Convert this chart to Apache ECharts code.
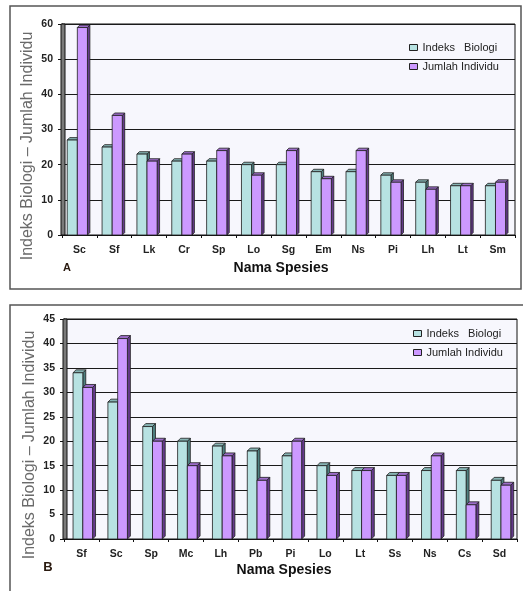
<!DOCTYPE html>
<html>
<head>
<meta charset="utf-8">
<script src="https://cdn.jsdelivr.net/npm/echarts@6/dist/echarts.min.js"></script>
<style>
  html, body { margin: 0; padding: 0; background: #ffffff; }
  #chart { width: 523px; height: 591px; }
</style>
</head>
<body>
<div id="chart"></div>
<script>
// Panel A
const speciesA = ['Sc', 'Sf', 'Lk', 'Cr', 'Sp', 'Lo', 'Sg', 'Em', 'Ns', 'Pi', 'Lh', 'Lt', 'Sm'];
const indeksA  = [27, 25, 23, 21, 21, 20, 20, 18, 18, 17, 15, 14, 14];
const jumlahA  = [59, 34, 21, 23, 24, 17, 24, 16, 24, 15, 13, 14, 15];
const ticksA   = [0, 10, 20, 30, 40, 50, 60];

// Panel B
const speciesB = ['Sf', 'Sc', 'Sp', 'Mc', 'Lh', 'Pb', 'Pi', 'Lo', 'Lt', 'Ss', 'Ns', 'Cs', 'Sd'];
const indeksB  = [34, 28, 23, 20, 19, 18, 17, 15, 14, 13, 14, 14, 12];
const jumlahB  = [31, 41, 20, 15, 17, 12, 20, 13, 14, 13, 17, 7, 11];
const ticksB   = [0, 5, 10, 15, 20, 25, 30, 35, 40, 45];

const nameIndeks = 'Indeks   Biologi';
const nameJumlah = 'Jumlah Individu';

const FONT = 'Liberation Sans, Arial, sans-serif';
const CYAN = { face: '#b7e2e2', side: '#4e7f7f', top: '#86b3b3' };
const PURP = { face: '#cc99ff', side: '#653a8c', top: '#9c6cc9' };

// pseudo-3D column: front face, right side and top slab
function column3d(offA, offB, depth, pal) {
  return function (params, api) {
    const c = api.coord([api.value(0), api.value(1)]);
    const b = api.coord([api.value(0), 0]);
    const w = api.size([1, 0])[0];
    const x0 = c[0] + offA * w, x1 = c[0] + offB * w, d = depth * w;
    const y = c[1], base = b[1];
    return {
      type: 'group',
      children: [
        { type: 'polygon', shape: { points: [[x1, y], [x1 + d, y - d], [x1 + d, base - d], [x1, base]] },
          style: { fill: pal.side, stroke: '#1e1e1e', lineWidth: 0.8 } },
        { type: 'polygon', shape: { points: [[x0, y], [x0 + d, y - d], [x1 + d, y - d], [x1, y]] },
          style: { fill: pal.top, stroke: '#1e1e1e', lineWidth: 0.8 } },
        { type: 'rect', shape: { x: x0, y: y, width: x1 - x0, height: base - y },
          style: { fill: pal.face, stroke: '#1e1e1e', lineWidth: 0.8 } }
      ]
    };
  };
}

function pairs(vals) { return vals.map((v, i) => [i, v]); }

function xAxisFor(idx, cats) {
  return {
    type: 'category', gridIndex: idx, data: cats, boundaryGap: true,
    axisLine: { lineStyle: { color: '#111', width: 1.2 } },
    axisTick: { show: true, length: 3, lineStyle: { color: '#111' } },
    axisLabel: { color: '#222', fontFamily: FONT, fontWeight: 'bold', fontSize: 10.5, margin: 10 }
  };
}
function yAxisFor(idx, ticks) {
  return {
    type: 'value', gridIndex: idx, min: ticks[0], max: ticks[ticks.length - 1],
    interval: ticks[1] - ticks[0],
    axisLine: { show: true, lineStyle: { color: '#111', width: 1.2 } },
    axisTick: { show: true, length: 4, lineStyle: { color: '#111' } },
    axisLabel: { color: '#222', fontFamily: FONT, fontWeight: 'bold', fontSize: 10.5, margin: 9 },
    splitLine: { lineStyle: { color: '#1a1a1a', width: 1.2 } }
  };
}
function legendFor(left, top) {
  return {
    data: [nameIndeks, nameJumlah], orient: 'vertical', left: left, top: top,
    padding: 0, icon: 'rect', itemWidth: 8, itemHeight: 6, itemGap: 6,
    itemStyle: { borderColor: '#222', borderWidth: 1 },
    textStyle: { color: '#222', fontFamily: FONT, fontSize: 11, lineHeight: 13 }
  };
}

const chart = echarts.init(document.getElementById('chart'), null, { renderer: 'canvas' });

const grids = [
  { left: 62, top: 24, width: 453, height: 211, show: true, backgroundColor: '#f7f7fd', borderColor: '#111', borderWidth: 1 },
  { left: 64, top: 319, width: 453, height: 220, show: true, backgroundColor: '#f7f7fd', borderColor: '#111', borderWidth: 1 }
];

const series = [];
[[0, indeksA, jumlahA, -0.35, -0.06, 0.23, 0.07],
 [1, indeksB, jumlahB, -0.24, 0.04, 0.32, 0.085]].forEach(([g, ind, jum, a, m, e, dp]) => {
  series.push({
    type: 'custom', name: nameIndeks, xAxisIndex: g, yAxisIndex: g,
    itemStyle: { color: CYAN.face, borderColor: '#222' },
    renderItem: column3d(a, m, dp, CYAN), data: pairs(ind), z: 2
  });
  series.push({
    type: 'custom', name: nameJumlah, xAxisIndex: g, yAxisIndex: g,
    itemStyle: { color: PURP.face, borderColor: '#222' },
    renderItem: column3d(m, e, dp, PURP), data: pairs(jum), z: 3
  });
});

function wall(x, top, h) {
  return { type: 'rect', shape: { x: x, y: top, width: 4, height: h }, z: 5,
           style: { fill: '#7a7a7a', stroke: '#111', lineWidth: 1 } };
}
function yTitle(x, y) {
  return { type: 'text', x: x, y: y, rotation: Math.PI / 2, z: 10,
           style: { text: 'Indeks Biologi – Jumlah Individu', fill: '#6a6a6a', font: '16px ' + FONT,
                    align: 'center', verticalAlign: 'middle' } };
}
function xTitle(x, y) {
  return { type: 'text', x: x, y: y, z: 10,
           style: { text: 'Nama Spesies', fill: '#111', font: 'bold 14px ' + FONT,
                    align: 'center', verticalAlign: 'middle' } };
}

chart.setOption({
  animation: false,
  grid: grids,
  xAxis: [xAxisFor(0, speciesA), xAxisFor(1, speciesB)],
  yAxis: [yAxisFor(0, ticksA), yAxisFor(1, ticksB)],
  legend: [legendFor(409, 41), legendFor(413, 327)],
  series: series,
  graphic: [
    // panel frames
    { type: 'rect', shape: { x: 10, y: 6, width: 511, height: 283 }, z: -10,
      style: { fill: 'none', stroke: '#555', lineWidth: 1.5 } },
    { type: 'rect', shape: { x: 10, y: 305, width: 520, height: 300 }, z: -10,
      style: { fill: 'none', stroke: '#555', lineWidth: 1.5 } },
    // side walls of the plot boxes
    wall(61, 24, 211),
    wall(63, 319, 220),
    yTitle(28, 146),
    yTitle(30, 445),
    xTitle(281, 268),
    xTitle(284, 570),
    // panel letters
    { type: 'text', x: 67, y: 268, z: 10,
      style: { text: 'A', fill: '#2a1a10', font: 'bold 11px ' + FONT, align: 'center', verticalAlign: 'middle' } },
    { type: 'text', x: 48, y: 567, z: 10,
      style: { text: 'B', fill: '#2a1a10', font: 'bold 13px ' + FONT, align: 'center', verticalAlign: 'middle' } }
  ]
});
</script>
</body>
</html>
